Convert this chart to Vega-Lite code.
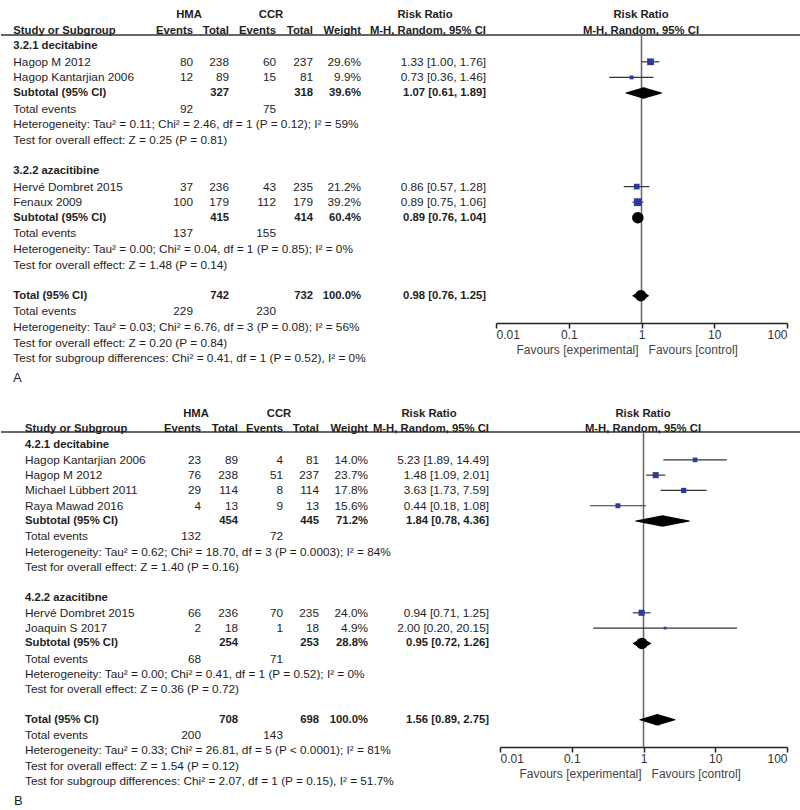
{
  "$schema": "https://vega.github.io/schema/vega-lite/v6.json",
  "background": "white",
  "padding": 0,
  "spacing": 0,
  "bounds": "flush",
  "config": {
    "view": {"stroke": null},
    "text": {"font": "Liberation Sans", "fontSize": 11.8, "color": "#1e1e1e", "baseline": "middle"}
  },
  "datasets": {
    "cellsA": [
      {"r":1,"c":0,"t":"Study or Subgroup","k":"b"},
      {"r":1,"c":1,"t":"Events","k":"b"},
      {"r":1,"c":2,"t":"Total","k":"b"},
      {"r":1,"c":3,"t":"Events","k":"b"},
      {"r":1,"c":4,"t":"Total","k":"b"},
      {"r":1,"c":5,"t":"Weight","k":"b"},
      {"r":1,"c":6,"t":"M-H, Random, 95% CI","k":"b"},
      {"r":2,"c":0,"t":"3.2.1 decitabine","k":"b"},
      {"r":3,"c":0,"t":"Hagop M 2012","k":"n"},
      {"r":3,"c":1,"t":"80","k":"n"},
      {"r":3,"c":2,"t":"238","k":"n"},
      {"r":3,"c":3,"t":"60","k":"n"},
      {"r":3,"c":4,"t":"237","k":"n"},
      {"r":3,"c":5,"t":"29.6%","k":"n"},
      {"r":3,"c":6,"t":"1.33 [1.00, 1.76]","k":"n"},
      {"r":4,"c":0,"t":"Hagop Kantarjian 2006","k":"n"},
      {"r":4,"c":1,"t":"12","k":"n"},
      {"r":4,"c":2,"t":"89","k":"n"},
      {"r":4,"c":3,"t":"15","k":"n"},
      {"r":4,"c":4,"t":"81","k":"n"},
      {"r":4,"c":5,"t":"9.9%","k":"n"},
      {"r":4,"c":6,"t":"0.73 [0.36, 1.46]","k":"n"},
      {"r":5,"c":0,"t":"Subtotal (95% CI)","k":"b"},
      {"r":5,"c":2,"t":"327","k":"b"},
      {"r":5,"c":4,"t":"318","k":"b"},
      {"r":5,"c":5,"t":"39.6%","k":"b"},
      {"r":5,"c":6,"t":"1.07 [0.61, 1.89]","k":"b"},
      {"r":6,"c":0,"t":"Total events","k":"n"},
      {"r":6,"c":1,"t":"92","k":"n"},
      {"r":6,"c":3,"t":"75","k":"n"},
      {"r":7,"c":0,"t":"Heterogeneity: Tau² = 0.11; Chi² = 2.46, df = 1 (P = 0.12); I² = 59%","k":"n"},
      {"r":8,"c":0,"t":"Test for overall effect: Z = 0.25 (P = 0.81)","k":"n"},
      {"r":10,"c":0,"t":"3.2.2 azacitibine","k":"b"},
      {"r":11,"c":0,"t":"Hervé Dombret 2015","k":"n"},
      {"r":11,"c":1,"t":"37","k":"n"},
      {"r":11,"c":2,"t":"236","k":"n"},
      {"r":11,"c":3,"t":"43","k":"n"},
      {"r":11,"c":4,"t":"235","k":"n"},
      {"r":11,"c":5,"t":"21.2%","k":"n"},
      {"r":11,"c":6,"t":"0.86 [0.57, 1.28]","k":"n"},
      {"r":12,"c":0,"t":"Fenaux 2009","k":"n"},
      {"r":12,"c":1,"t":"100","k":"n"},
      {"r":12,"c":2,"t":"179","k":"n"},
      {"r":12,"c":3,"t":"112","k":"n"},
      {"r":12,"c":4,"t":"179","k":"n"},
      {"r":12,"c":5,"t":"39.2%","k":"n"},
      {"r":12,"c":6,"t":"0.89 [0.75, 1.06]","k":"n"},
      {"r":13,"c":0,"t":"Subtotal (95% CI)","k":"b"},
      {"r":13,"c":2,"t":"415","k":"b"},
      {"r":13,"c":4,"t":"414","k":"b"},
      {"r":13,"c":5,"t":"60.4%","k":"b"},
      {"r":13,"c":6,"t":"0.89 [0.76, 1.04]","k":"b"},
      {"r":14,"c":0,"t":"Total events","k":"n"},
      {"r":14,"c":1,"t":"137","k":"n"},
      {"r":14,"c":3,"t":"155","k":"n"},
      {"r":15,"c":0,"t":"Heterogeneity: Tau² = 0.00; Chi² = 0.04, df = 1 (P = 0.85); I² = 0%","k":"n"},
      {"r":16,"c":0,"t":"Test for overall effect: Z = 1.48 (P = 0.14)","k":"n"},
      {"r":18,"c":0,"t":"Total (95% CI)","k":"b"},
      {"r":18,"c":2,"t":"742","k":"b"},
      {"r":18,"c":4,"t":"732","k":"b"},
      {"r":18,"c":5,"t":"100.0%","k":"b"},
      {"r":18,"c":6,"t":"0.98 [0.76, 1.25]","k":"b"},
      {"r":19,"c":0,"t":"Total events","k":"n"},
      {"r":19,"c":1,"t":"229","k":"n"},
      {"r":19,"c":3,"t":"230","k":"n"},
      {"r":20,"c":0,"t":"Heterogeneity: Tau² = 0.03; Chi² = 6.76, df = 3 (P = 0.08); I² = 56%","k":"n"},
      {"r":21,"c":0,"t":"Test for overall effect: Z = 0.20 (P = 0.84)","k":"n"},
      {"r":22,"c":0,"t":"Test for subgroup differences: Chi² = 0.41, df = 1 (P = 0.52), I² = 0%","k":"n"},
      {"r":23.3,"c":-1,"t":"A","k":"p"}
    ],
    "headsA": [
      {"r":0,"h":0,"t":"HMA"},
      {"r":0,"h":1,"t":"CCR"},
      {"r":0,"h":2,"t":"Risk Ratio"},
      {"r":0,"h":3,"t":"Risk Ratio"},
      {"r":1,"h":3,"t":"M-H, Random, 95% CI"}
    ],
    "forestA": [
      {"r":3,"est":1.33,"lo":1.00,"hi":1.76,"w":29.6,"type":"study"},
      {"r":4,"est":0.73,"lo":0.36,"hi":1.46,"w":9.9,"type":"study"},
      {"r":5,"est":1.07,"lo":0.61,"hi":1.89,"w":39.6,"type":"pooled"},
      {"r":11,"est":0.86,"lo":0.57,"hi":1.28,"w":21.2,"type":"study"},
      {"r":12,"est":0.89,"lo":0.75,"hi":1.06,"w":39.2,"type":"study"},
      {"r":13,"est":0.89,"lo":0.76,"hi":1.04,"w":60.4,"type":"pooled"},
      {"r":18,"est":0.98,"lo":0.76,"hi":1.25,"w":100,"type":"pooled"}
    ],
    "cellsB": [
      {"r":1,"c":0,"t":"Study or Subgroup","k":"b"},
      {"r":1,"c":1,"t":"Events","k":"b"},
      {"r":1,"c":2,"t":"Total","k":"b"},
      {"r":1,"c":3,"t":"Events","k":"b"},
      {"r":1,"c":4,"t":"Total","k":"b"},
      {"r":1,"c":5,"t":"Weight","k":"b"},
      {"r":1,"c":6,"t":"M-H, Random, 95% CI","k":"b"},
      {"r":2,"c":0,"t":"4.2.1 decitabine","k":"b"},
      {"r":3,"c":0,"t":"Hagop Kantarjian 2006","k":"n"},
      {"r":3,"c":1,"t":"23","k":"n"},
      {"r":3,"c":2,"t":"89","k":"n"},
      {"r":3,"c":3,"t":"4","k":"n"},
      {"r":3,"c":4,"t":"81","k":"n"},
      {"r":3,"c":5,"t":"14.0%","k":"n"},
      {"r":3,"c":6,"t":"5.23 [1.89, 14.49]","k":"n"},
      {"r":4,"c":0,"t":"Hagop M 2012","k":"n"},
      {"r":4,"c":1,"t":"76","k":"n"},
      {"r":4,"c":2,"t":"238","k":"n"},
      {"r":4,"c":3,"t":"51","k":"n"},
      {"r":4,"c":4,"t":"237","k":"n"},
      {"r":4,"c":5,"t":"23.7%","k":"n"},
      {"r":4,"c":6,"t":"1.48 [1.09, 2.01]","k":"n"},
      {"r":5,"c":0,"t":"Michael Lübbert 2011","k":"n"},
      {"r":5,"c":1,"t":"29","k":"n"},
      {"r":5,"c":2,"t":"114","k":"n"},
      {"r":5,"c":3,"t":"8","k":"n"},
      {"r":5,"c":4,"t":"114","k":"n"},
      {"r":5,"c":5,"t":"17.8%","k":"n"},
      {"r":5,"c":6,"t":"3.63 [1.73, 7.59]","k":"n"},
      {"r":6,"c":0,"t":"Raya Mawad 2016","k":"n"},
      {"r":6,"c":1,"t":"4","k":"n"},
      {"r":6,"c":2,"t":"13","k":"n"},
      {"r":6,"c":3,"t":"9","k":"n"},
      {"r":6,"c":4,"t":"13","k":"n"},
      {"r":6,"c":5,"t":"15.6%","k":"n"},
      {"r":6,"c":6,"t":"0.44 [0.18, 1.08]","k":"n"},
      {"r":7,"c":0,"t":"Subtotal (95% CI)","k":"b"},
      {"r":7,"c":2,"t":"454","k":"b"},
      {"r":7,"c":4,"t":"445","k":"b"},
      {"r":7,"c":5,"t":"71.2%","k":"b"},
      {"r":7,"c":6,"t":"1.84 [0.78, 4.36]","k":"b"},
      {"r":8,"c":0,"t":"Total events","k":"n"},
      {"r":8,"c":1,"t":"132","k":"n"},
      {"r":8,"c":3,"t":"72","k":"n"},
      {"r":9,"c":0,"t":"Heterogeneity: Tau² = 0.62; Chi² = 18.70, df = 3 (P = 0.0003); I² = 84%","k":"n"},
      {"r":10,"c":0,"t":"Test for overall effect: Z = 1.40 (P = 0.16)","k":"n"},
      {"r":12,"c":0,"t":"4.2.2 azacitibne","k":"b"},
      {"r":13,"c":0,"t":"Hervé Dombret 2015","k":"n"},
      {"r":13,"c":1,"t":"66","k":"n"},
      {"r":13,"c":2,"t":"236","k":"n"},
      {"r":13,"c":3,"t":"70","k":"n"},
      {"r":13,"c":4,"t":"235","k":"n"},
      {"r":13,"c":5,"t":"24.0%","k":"n"},
      {"r":13,"c":6,"t":"0.94 [0.71, 1.25]","k":"n"},
      {"r":14,"c":0,"t":"Joaquin S 2017","k":"n"},
      {"r":14,"c":1,"t":"2","k":"n"},
      {"r":14,"c":2,"t":"18","k":"n"},
      {"r":14,"c":3,"t":"1","k":"n"},
      {"r":14,"c":4,"t":"18","k":"n"},
      {"r":14,"c":5,"t":"4.9%","k":"n"},
      {"r":14,"c":6,"t":"2.00 [0.20, 20.15]","k":"n"},
      {"r":15,"c":0,"t":"Subtotal (95% CI)","k":"b"},
      {"r":15,"c":2,"t":"254","k":"b"},
      {"r":15,"c":4,"t":"253","k":"b"},
      {"r":15,"c":5,"t":"28.8%","k":"b"},
      {"r":15,"c":6,"t":"0.95 [0.72, 1.26]","k":"b"},
      {"r":16,"c":0,"t":"Total events","k":"n"},
      {"r":16,"c":1,"t":"68","k":"n"},
      {"r":16,"c":3,"t":"71","k":"n"},
      {"r":17,"c":0,"t":"Heterogeneity: Tau² = 0.00; Chi² = 0.41, df = 1 (P = 0.52); I² = 0%","k":"n"},
      {"r":18,"c":0,"t":"Test for overall effect: Z = 0.36 (P = 0.72)","k":"n"},
      {"r":20,"c":0,"t":"Total (95% CI)","k":"b"},
      {"r":20,"c":2,"t":"708","k":"b"},
      {"r":20,"c":4,"t":"698","k":"b"},
      {"r":20,"c":5,"t":"100.0%","k":"b"},
      {"r":20,"c":6,"t":"1.56 [0.89, 2.75]","k":"b"},
      {"r":21,"c":0,"t":"Total events","k":"n"},
      {"r":21,"c":1,"t":"200","k":"n"},
      {"r":21,"c":3,"t":"143","k":"n"},
      {"r":22,"c":0,"t":"Heterogeneity: Tau² = 0.33; Chi² = 26.81, df = 5 (P < 0.0001); I² = 81%","k":"n"},
      {"r":23,"c":0,"t":"Test for overall effect: Z = 1.54 (P = 0.12)","k":"n"},
      {"r":24,"c":0,"t":"Test for subgroup differences: Chi² = 2.07, df = 1 (P = 0.15), I² = 51.7%","k":"n"},
      {"r":25.3,"c":-1,"t":"B","k":"p"}
    ],
    "headsB": [
      {"r":0,"h":0,"t":"HMA"},
      {"r":0,"h":1,"t":"CCR"},
      {"r":0,"h":2,"t":"Risk Ratio"},
      {"r":0,"h":3,"t":"Risk Ratio"},
      {"r":1,"h":3,"t":"M-H, Random, 95% CI"}
    ],
    "forestB": [
      {"r":3,"est":5.23,"lo":1.89,"hi":14.49,"w":14.0,"type":"study"},
      {"r":4,"est":1.48,"lo":1.09,"hi":2.01,"w":23.7,"type":"study"},
      {"r":5,"est":3.63,"lo":1.73,"hi":7.59,"w":17.8,"type":"study"},
      {"r":6,"est":0.44,"lo":0.18,"hi":1.08,"w":15.6,"type":"study"},
      {"r":7,"est":1.84,"lo":0.78,"hi":4.36,"w":71.2,"type":"pooled"},
      {"r":13,"est":0.94,"lo":0.71,"hi":1.25,"w":24.0,"type":"study"},
      {"r":14,"est":2.00,"lo":0.20,"hi":20.15,"w":4.9,"type":"study"},
      {"r":15,"est":0.95,"lo":0.72,"hi":1.26,"w":28.8,"type":"pooled"},
      {"r":20,"est":1.56,"lo":0.89,"hi":2.75,"w":100,"type":"pooled"}
    ]
  },
  "vconcat": [
    {
      "width": 800,
      "height": 405,
      "resolve": {"scale": {"x": "independent"}, "axis": {"x": "independent"}},
      "layer": [
        {
          "data": {"values": [{"line": "header"}]},
          "mark": {"type": "rule", "color": "#333333", "strokeWidth": 1.5},
          "encoding": {"y": {"datum": 1.28, "type": "quantitative", "scale": {"domain": [0, 22], "range": [15, 358.2], "nice": false, "zero": false}, "axis": null}}
        },
        {
          "data": {"values": [{"rr": 1}]},
          "mark": {"type": "rule", "color": "#666666", "strokeWidth": 1.5},
          "encoding": {
            "x": {"field": "rr", "type": "quantitative",
              "scale": {"type": "log", "domain": [0.01, 100], "range": [495, 786], "nice": false},
              "axis": {"orient": "bottom", "offset": -82, "values": [0.01, 0.1, 1, 10, 100], "format": "~g",
                "labelFlush": true, "labelFont": "Liberation Sans", "labelFontSize": 12, "labelColor": "#333333",
                "labelPadding": 1, "domainColor": "#222222", "domainWidth": 1.5, "tickColor": "#222222", "tickWidth": 1.5, "tickSize": 5, "grid": false,
                "title": "Favours [experimental]\u00a0\u00a0\u00a0Favours [control]", "titleX": 515, "titleY": 26, "titleAlign": "left", "titleBaseline": "middle",
                "titleFont": "Liberation Sans", "titleFontSize": 12, "titleFontWeight": "normal", "titleColor": "#444444"}},
            "y": {"datum": 1.28, "type": "quantitative", "axis": null},
            "y2": {"datum": 19.74}
          }
        },
        {
          "data": {"name": "forestA"},
          "transform": [{"filter": "datum.type == 'study'"}],
          "mark": {"type": "rule", "color": "#333333", "strokeWidth": 1.2},
          "encoding": {
            "x": {"field": "lo", "type": "quantitative", "scale": {"type": "log", "domain": [0.01, 100], "range": [495, 786], "nice": false}, "axis": null},
            "x2": {"field": "hi"},
            "y": {"field": "r", "type": "quantitative", "axis": null}
          }
        },
        {
          "data": {"name": "forestA"},
          "transform": [{"filter": "datum.type == 'study'"}],
          "mark": {"type": "point", "shape": "square", "filled": true, "color": "#2b3a9c", "opacity": 1},
          "encoding": {
            "x": {"field": "est", "type": "quantitative", "scale": {"type": "log", "domain": [0.01, 100], "range": [495, 786], "nice": false}, "axis": null},
            "y": {"field": "r", "type": "quantitative", "axis": null},
            "size": {"field": "w", "type": "quantitative", "scale": {"domain": [0, 40], "range": [0, 62]}, "legend": null}
          }
        },
        {
          "data": {"name": "forestA"},
          "transform": [{"filter": "datum.type == 'pooled'"}, {"fold": ["lo", "est", "hi"], "as": ["key", "val"]}],
          "mark": {"type": "trail", "color": "#000000"},
          "encoding": {
            "x": {"field": "val", "type": "quantitative", "scale": {"type": "log", "domain": [0.01, 100], "range": [495, 786], "nice": false}, "axis": null},
            "y": {"field": "r", "type": "quantitative", "axis": null},
            "detail": {"field": "r", "type": "nominal"},
            "size": {"condition": {"test": "datum.key === 'est'", "value": 11.5}, "value": 0}
          }
        },
        {
          "data": {"name": "cellsA"},
          "transform": [{"filter": "datum.c <= 0 && datum.k == 'n'"}],
          "mark": {"type": "text", "align": "left"},
          "encoding": {
            "x": {"field": "c", "type": "quantitative", "scale": {"domain": [-1, 0, 1, 2, 3, 4, 5, 6], "range": [12, 12.3, 192, 228, 275, 312, 360, 485], "nice": false, "zero": false}, "axis": null},
            "y": {"field": "r", "type": "quantitative", "axis": null},
            "text": {"field": "t"}
          }
        },
        {
          "data": {"name": "cellsA"},
          "transform": [{"filter": "datum.c <= 0 && datum.k == 'b'"}],
          "mark": {"type": "text", "align": "left", "fontWeight": "bold", "fontSize": 11.3},
          "encoding": {
            "x": {"field": "c", "type": "quantitative", "scale": {"domain": [-1, 0, 1, 2, 3, 4, 5, 6], "range": [12, 12.3, 192, 228, 275, 312, 360, 485], "nice": false, "zero": false}, "axis": null},
            "y": {"field": "r", "type": "quantitative", "axis": null},
            "text": {"field": "t"}
          }
        },
        {
          "data": {"name": "cellsA"},
          "transform": [{"filter": "datum.c > 0 && datum.k == 'n'"}],
          "mark": {"type": "text", "align": "right"},
          "encoding": {
            "x": {"field": "c", "type": "quantitative", "scale": {"domain": [-1, 0, 1, 2, 3, 4, 5, 6], "range": [12, 12.3, 192, 228, 275, 312, 360, 485], "nice": false, "zero": false}, "axis": null},
            "y": {"field": "r", "type": "quantitative", "axis": null},
            "text": {"field": "t"}
          }
        },
        {
          "data": {"name": "cellsA"},
          "transform": [{"filter": "datum.c > 0 && datum.k == 'b'"}],
          "mark": {"type": "text", "align": "right", "fontWeight": "bold", "fontSize": 11.3},
          "encoding": {
            "x": {"field": "c", "type": "quantitative", "scale": {"domain": [-1, 0, 1, 2, 3, 4, 5, 6], "range": [12, 12.3, 192, 228, 275, 312, 360, 485], "nice": false, "zero": false}, "axis": null},
            "y": {"field": "r", "type": "quantitative", "axis": null},
            "text": {"field": "t"}
          }
        },
        {
          "data": {"name": "cellsA"},
          "transform": [{"filter": "datum.k == 'p'"}],
          "mark": {"type": "text", "align": "left", "fontSize": 13},
          "encoding": {
            "x": {"field": "c", "type": "quantitative", "scale": {"domain": [-1, 0, 1, 2, 3, 4, 5, 6], "range": [12, 12.3, 192, 228, 275, 312, 360, 485], "nice": false, "zero": false}, "axis": null},
            "y": {"field": "r", "type": "quantitative", "axis": null},
            "text": {"field": "t"}
          }
        },
        {
          "data": {"name": "headsA"},
          "mark": {"type": "text", "align": "center", "fontWeight": "bold", "fontSize": 11.3},
          "encoding": {
            "x": {"field": "h", "type": "quantitative", "scale": {"domain": [0, 1, 2, 3], "range": [188, 270, 424, 640], "nice": false, "zero": false}, "axis": null},
            "y": {"field": "r", "type": "quantitative", "axis": null},
            "text": {"field": "t"}
          }
        }
      ]
    },
    {
      "width": 800,
      "height": 405,
      "resolve": {"scale": {"x": "independent"}, "axis": {"x": "independent"}},
      "layer": [
        {
          "data": {"values": [{"line": "header"}]},
          "mark": {"type": "rule", "color": "#333333", "strokeWidth": 1.5},
          "encoding": {"y": {"datum": 1.18, "type": "quantitative", "scale": {"domain": [0, 24], "range": [9, 376], "nice": false, "zero": false}, "axis": null}}
        },
        {
          "data": {"values": [{"rr": 1}]},
          "mark": {"type": "rule", "color": "#666666", "strokeWidth": 1.5},
          "encoding": {
            "x": {"field": "rr", "type": "quantitative",
              "scale": {"type": "log", "domain": [0.01, 100], "range": [499, 786], "nice": false},
              "axis": {"orient": "bottom", "offset": -63, "values": [0.01, 0.1, 1, 10, 100], "format": "~g",
                "labelFlush": true, "labelFont": "Liberation Sans", "labelFontSize": 12, "labelColor": "#333333",
                "labelPadding": 1, "domainColor": "#222222", "domainWidth": 1.5, "tickColor": "#222222", "tickWidth": 1.5, "tickSize": 5, "grid": false,
                "title": "Favours [experimental]\u00a0\u00a0\u00a0Favours [control]", "titleX": 518, "titleY": 26, "titleAlign": "left", "titleBaseline": "middle",
                "titleFont": "Liberation Sans", "titleFontSize": 12, "titleFontWeight": "normal", "titleColor": "#444444"}},
            "y": {"datum": 1.18, "type": "quantitative", "axis": null},
            "y2": {"datum": 21.78}
          }
        },
        {
          "data": {"name": "forestB"},
          "transform": [{"filter": "datum.type == 'study'"}],
          "mark": {"type": "rule", "color": "#333333", "strokeWidth": 1.2},
          "encoding": {
            "x": {"field": "lo", "type": "quantitative", "scale": {"type": "log", "domain": [0.01, 100], "range": [499, 786], "nice": false}, "axis": null},
            "x2": {"field": "hi"},
            "y": {"field": "r", "type": "quantitative", "axis": null}
          }
        },
        {
          "data": {"name": "forestB"},
          "transform": [{"filter": "datum.type == 'study'"}],
          "mark": {"type": "point", "shape": "square", "filled": true, "color": "#2b3a9c", "opacity": 1},
          "encoding": {
            "x": {"field": "est", "type": "quantitative", "scale": {"type": "log", "domain": [0.01, 100], "range": [499, 786], "nice": false}, "axis": null},
            "y": {"field": "r", "type": "quantitative", "axis": null},
            "size": {"field": "w", "type": "quantitative", "scale": {"domain": [0, 40], "range": [0, 62]}, "legend": null}
          }
        },
        {
          "data": {"name": "forestB"},
          "transform": [{"filter": "datum.type == 'pooled'"}, {"fold": ["lo", "est", "hi"], "as": ["key", "val"]}],
          "mark": {"type": "trail", "color": "#000000"},
          "encoding": {
            "x": {"field": "val", "type": "quantitative", "scale": {"type": "log", "domain": [0.01, 100], "range": [499, 786], "nice": false}, "axis": null},
            "y": {"field": "r", "type": "quantitative", "axis": null},
            "detail": {"field": "r", "type": "nominal"},
            "size": {"condition": {"test": "datum.key === 'est'", "value": 11.5}, "value": 0}
          }
        },
        {
          "data": {"name": "cellsB"},
          "transform": [{"filter": "datum.c <= 0 && datum.k == 'n'"}],
          "mark": {"type": "text", "align": "left"},
          "encoding": {
            "x": {"field": "c", "type": "quantitative", "scale": {"domain": [-1, 0, 1, 2, 3, 4, 5, 6], "range": [13, 24, 200, 237, 282, 318, 367, 488], "nice": false, "zero": false}, "axis": null},
            "y": {"field": "r", "type": "quantitative", "axis": null},
            "text": {"field": "t"}
          }
        },
        {
          "data": {"name": "cellsB"},
          "transform": [{"filter": "datum.c <= 0 && datum.k == 'b'"}],
          "mark": {"type": "text", "align": "left", "fontWeight": "bold", "fontSize": 11.3},
          "encoding": {
            "x": {"field": "c", "type": "quantitative", "scale": {"domain": [-1, 0, 1, 2, 3, 4, 5, 6], "range": [13, 24, 200, 237, 282, 318, 367, 488], "nice": false, "zero": false}, "axis": null},
            "y": {"field": "r", "type": "quantitative", "axis": null},
            "text": {"field": "t"}
          }
        },
        {
          "data": {"name": "cellsB"},
          "transform": [{"filter": "datum.c > 0 && datum.k == 'n'"}],
          "mark": {"type": "text", "align": "right"},
          "encoding": {
            "x": {"field": "c", "type": "quantitative", "scale": {"domain": [-1, 0, 1, 2, 3, 4, 5, 6], "range": [13, 24, 200, 237, 282, 318, 367, 488], "nice": false, "zero": false}, "axis": null},
            "y": {"field": "r", "type": "quantitative", "axis": null},
            "text": {"field": "t"}
          }
        },
        {
          "data": {"name": "cellsB"},
          "transform": [{"filter": "datum.c > 0 && datum.k == 'b'"}],
          "mark": {"type": "text", "align": "right", "fontWeight": "bold", "fontSize": 11.3},
          "encoding": {
            "x": {"field": "c", "type": "quantitative", "scale": {"domain": [-1, 0, 1, 2, 3, 4, 5, 6], "range": [13, 24, 200, 237, 282, 318, 367, 488], "nice": false, "zero": false}, "axis": null},
            "y": {"field": "r", "type": "quantitative", "axis": null},
            "text": {"field": "t"}
          }
        },
        {
          "data": {"name": "cellsB"},
          "transform": [{"filter": "datum.k == 'p'"}],
          "mark": {"type": "text", "align": "left", "fontSize": 13},
          "encoding": {
            "x": {"field": "c", "type": "quantitative", "scale": {"domain": [-1, 0, 1, 2, 3, 4, 5, 6], "range": [13, 24, 200, 237, 282, 318, 367, 488], "nice": false, "zero": false}, "axis": null},
            "y": {"field": "r", "type": "quantitative", "axis": null},
            "text": {"field": "t"}
          }
        },
        {
          "data": {"name": "headsB"},
          "mark": {"type": "text", "align": "center", "fontWeight": "bold", "fontSize": 11.3},
          "encoding": {
            "x": {"field": "h", "type": "quantitative", "scale": {"domain": [0, 1, 2, 3], "range": [195, 278, 428, 642], "nice": false, "zero": false}, "axis": null},
            "y": {"field": "r", "type": "quantitative", "axis": null},
            "text": {"field": "t"}
          }
        }
      ]
    }
  ]
}
